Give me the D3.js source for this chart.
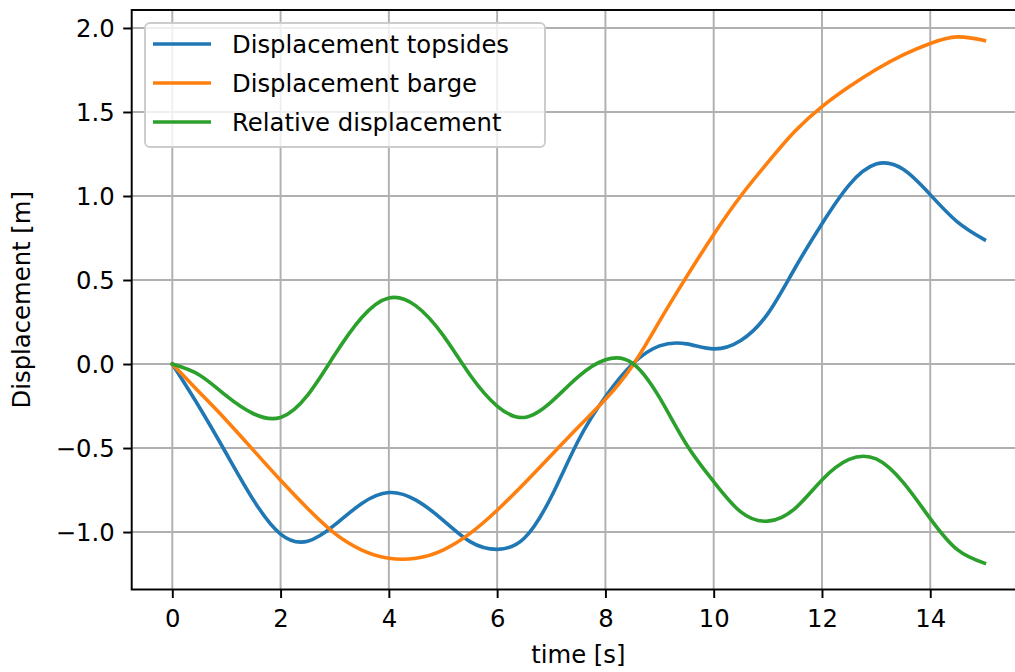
<!DOCTYPE html>
<html>
<head>
<meta charset="utf-8">
<script src="https://cdn.jsdelivr.net/npm/d3@7"></script>
<style>
  html, body { margin: 0; padding: 0; background: #fff; }
  svg { display: block; }
  text { font-family: "DejaVu Sans", sans-serif; fill: #000; }
</style>
</head>
<body>
<div id="chart"></div>
<script>
// Time samples [s]
const time = [0, 0.5, 1, 1.5, 2, 2.5, 3, 3.5, 4, 4.5, 5, 5.5, 6, 6.5, 7, 7.5,
              8, 8.5, 9, 9.5, 10, 10.5, 11, 11.5, 12, 12.5, 13, 13.5, 14, 14.5, 15];

// Displacement of the topsides [m]
const topsides = [0, -0.257, -0.534, -0.81, -1.012, -1.055, -0.958, -0.83, -0.765, -0.81,
                  -0.929, -1.057, -1.103, -1.037, -0.79, -0.455, -0.195, 0.0, 0.108, 0.12,
                  0.09, 0.14, 0.3, 0.57, 0.835, 1.065, 1.19, 1.159, 1.008, 0.846, 0.74];

// Displacement of the barge [m]
const barge = [0, -0.168, -0.336, -0.514, -0.692, -0.86, -1.008, -1.107, -1.156, -1.156,
               -1.107, -1.008, -0.87, -0.711, -0.543, -0.375, -0.21, -0.01, 0.255, 0.52,
               0.771, 1.0, 1.2, 1.385, 1.532, 1.65, 1.753, 1.84, 1.908, 1.947, 1.925];

// Relative displacement [m]
const relative = [0, -0.065, -0.19, -0.296, -0.318, -0.185, 0.055, 0.277, 0.393, 0.346,
                  0.172, -0.065, -0.25, -0.318, -0.225, -0.075, 0.025, 0.005, -0.2, -0.48,
                  -0.7, -0.88, -0.935, -0.86, -0.69, -0.568, -0.565, -0.705, -0.92, -1.105, -1.185];

const seriesNames = ["Displacement topsides", "Displacement barge", "Relative displacement"];
const seriesColors = ["#1f77b4", "#ff7f0e", "#2ca02c"];

const xTicks = [0, 2, 4, 6, 8, 10, 12, 14];
const yTicks = [-1.0, -0.5, 0.0, 0.5, 1.0, 1.5, 2.0];

const xLabel = "time [s]";
const yLabel = "Displacement [m]";

// Figure geometry
const W = 1015, H = 672;
const plot = { left: 131.7, top: 10, right: 1025, bottom: 589.5 };
const fontSize = 24.3;
const tickLen = 8.5, tickPad = 8.5;
const lw = 3.6;

const svg = d3.select("#chart").append("svg")
  .attr("width", W).attr("height", H);

const x = d3.scaleLinear().domain([-0.75, 15.75]).range([plot.left, plot.right]);
const y = d3.scaleLinear().domain([-1.342, 2.107]).range([plot.bottom, plot.top]);

// Grid
const grid = svg.append("g");
grid.selectAll("line.gx").data(xTicks).enter().append("line")
  .attr("x1", d => x(d)).attr("x2", d => x(d))
  .attr("y1", plot.top).attr("y2", plot.bottom)
  .attr("stroke", "#b0b0b0").attr("stroke-width", 1.95);
grid.selectAll("line.gy").data(yTicks).enter().append("line")
  .attr("y1", d => y(d)).attr("y2", d => y(d))
  .attr("x1", plot.left).attr("x2", plot.right)
  .attr("stroke", "#b0b0b0").attr("stroke-width", 1.95);

// Axes
const fmtY = v => d3.format(".1f")(v).replace("-", "\u2212");

const xAxis = d3.axisBottom(x).tickValues(xTicks).tickFormat(d3.format("d"))
  .tickSize(tickLen).tickPadding(tickPad);
const yAxis = d3.axisLeft(y).tickValues(yTicks).tickFormat(fmtY)
  .tickSize(tickLen).tickPadding(tickPad);

const gx = svg.append("g").attr("transform", `translate(0,${plot.bottom})`).call(xAxis);
const gy = svg.append("g").attr("transform", `translate(${plot.left},0)`).call(yAxis);
[gx, gy].forEach(g => {
  g.select(".domain").remove();
  g.selectAll(".tick line").attr("stroke", "#000").attr("stroke-width", 1.95);
  g.selectAll(".tick text")
    .style("font-family", "'DejaVu Sans', sans-serif")
    .style("font-size", fontSize + "px").attr("fill", "#000");
});
gx.selectAll(".tick text").attr("dy", null).attr("y", tickLen + tickPad + 20.5);
gy.selectAll(".tick text").attr("dy", "0.36em");

// Lines: smooth cubic spline through the samples
const lineGen = d3.line()
  .x((d, i) => x(time[i]))
  .y(d => y(d))
  .curve(d3.curveNatural);

[topsides, barge, relative].forEach((vals, k) => {
  svg.append("path")
    .attr("d", lineGen(vals))
    .attr("fill", "none")
    .attr("stroke", seriesColors[k])
    .attr("stroke-width", lw)
    .attr("stroke-linejoin", "round")
    .attr("stroke-linecap", "square");
});

// Spines
const spines = svg.append("g").attr("stroke", "#000").attr("stroke-width", 1.95).attr("fill", "none");
spines.append("rect")
  .attr("x", plot.left).attr("y", plot.top)
  .attr("width", plot.right - plot.left).attr("height", plot.bottom - plot.top);

// Axis labels
svg.append("text")
  .attr("x", (plot.left + plot.right) / 2).attr("y", 663)
  .attr("text-anchor", "middle")
  .style("font-size", fontSize + "px")
  .text(xLabel);

svg.append("text")
  .attr("transform", `translate(30,${(plot.top + plot.bottom) / 2}) rotate(-90)`)
  .attr("text-anchor", "middle")
  .style("font-size", fontSize + "px")
  .text(yLabel);

// Legend
const legend = svg.append("g");
legend.append("rect")
  .attr("x", 145).attr("y", 23).attr("width", 400).attr("height", 124)
  .attr("rx", 5).attr("ry", 5)
  .attr("fill", "#ffffff").attr("fill-opacity", 0.8)
  .attr("stroke", "#cccccc").attr("stroke-width", 1.95);

const rowY = [44, 83, 122];
seriesNames.forEach((name, k) => {
  legend.append("line")
    .attr("x1", 153).attr("x2", 211)
    .attr("y1", rowY[k]).attr("y2", rowY[k])
    .attr("stroke", seriesColors[k]).attr("stroke-width", lw);
  legend.append("text")
    .attr("x", 232).attr("y", rowY[k] + 9)
    .style("font-size", fontSize + "px")
    .text(name);
});
</script>
</body>
</html>
